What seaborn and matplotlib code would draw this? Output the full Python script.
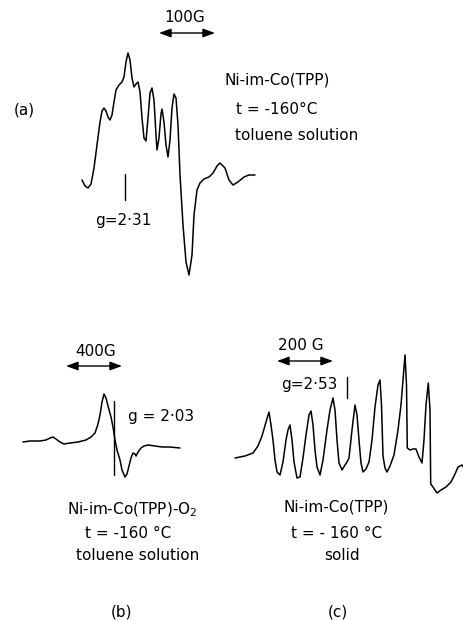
import matplotlib
matplotlib.use("Agg")
import matplotlib.pyplot as plt
import seaborn as sns
import pandas as pd

# ---- data (page pixel coordinates) ----
a_x = [82, 85, 88, 91, 94, 97, 100, 102, 104, 106, 108, 110, 112, 114, 116, 119, 122, 124, 126, 128,
       130, 132, 134, 136, 138, 140, 142, 144, 146, 148, 150, 152, 154, 156, 157, 159, 161, 162, 164,
       166, 168, 170, 172, 174, 176, 178, 180, 183, 186, 189, 192, 194, 197, 200, 204, 209, 213, 217,
       220, 225, 229, 233, 238, 244, 249, 255]
a_y = [180, 186, 188, 184, 168, 145, 122, 111, 108, 111, 117, 120, 115, 102, 90, 85, 82, 77, 62, 53,
       60, 78, 87, 84, 82, 92, 118, 138, 141, 118, 93, 88, 100, 135, 150, 138, 114, 109, 122,
       145, 157, 140, 108, 94, 98, 125, 175, 225, 262, 275, 255, 215, 190, 183, 179, 177, 173, 166,
       163, 168, 180, 185, 182, 177, 175, 175]

b_x = [23, 30, 40, 46, 50, 53, 56, 60, 64, 70, 78, 86, 91, 95, 98, 100, 102, 104, 106, 108, 111,
       113, 115, 117, 120, 122, 125, 127, 129, 131, 133, 135, 136, 138, 141, 144, 148, 155, 162,
       170, 180]
b_y = [442, 441, 441, 440, 438, 437, 439, 442, 444, 443, 442, 440, 437, 433, 424, 415, 402, 394, 398,
       406, 417, 427, 440, 450, 460, 470, 477, 474, 466, 458, 453, 454, 456, 452, 448, 446, 445, 446,
       447, 447, 448]

c_x = [235, 245, 253, 258, 262, 266, 269, 271, 273, 275, 277, 280, 283, 286, 288, 290, 292, 294,
       297, 300, 303, 306, 309, 311, 313, 315, 317, 320, 323, 327, 330, 333, 335, 337, 339, 342,
       345, 347, 349, 352, 355, 357, 359, 361, 363, 366, 369, 372, 375, 378, 380, 381.5, 383, 385,
       387, 390, 394, 398, 401, 403, 405, 406.5, 407.3, 410, 413, 416, 419, 422, 424, 426, 428.3,
       430, 430.7, 433, 437, 441, 446, 451, 455, 458, 462, 464]
c_y = [458, 456, 453, 446, 436, 422, 412, 425, 440, 460, 472, 475, 462, 440, 430, 425, 440, 462,
       478, 477, 458, 435, 415, 411, 425, 450, 467, 475, 460, 430, 410, 398, 410, 440, 463, 470,
       465, 462, 458, 430, 405, 415, 440, 463, 472, 469, 462, 440, 407, 385, 380, 405, 456, 468,
       472, 466, 455, 430, 405, 380, 355, 385, 448, 450, 449, 449, 457, 463, 440, 405, 383,
       410, 484, 487, 493, 490, 487, 482, 474, 467, 465, 468]

texts = [
    # (text, x, y, ha)
    ("100G", 185, 18, "center"),
    ("(a)", 24, 110, "center"),
    ("Ni-im-Co(TPP)", 225, 80, "left"),
    ("t = -160°C", 236, 109, "left"),
    ("toluene solution", 235, 136, "left"),
    ("g=2·31", 123, 220, "center"),
    ("400G", 96, 352, "center"),
    ("g = 2·03", 161, 416, "center"),
    ("200 G", 301, 345, "center"),
    ("g=2·53", 309, 385, "center"),
    ("Ni-im-Co(TPP)-O$_2$", 132, 510, "center"),
    ("t = -160 °C", 128, 533, "center"),
    ("toluene solution", 138, 555, "center"),
    ("(b)", 122, 612, "center"),
    ("Ni-im-Co(TPP)", 336, 507, "center"),
    ("t = - 160 °C", 337, 533, "center"),
    ("solid", 342, 555, "center"),
    ("(c)", 338, 612, "center"),
]

sns.set_theme(style="white")
plt.rcParams["font.family"] = ["DejaVu Sans"]

fig = plt.figure(figsize=(4.64, 6.20), dpi=100)
ax = fig.add_axes([0, 0, 1, 1])

for xs, ys in ((a_x, a_y), (b_x, b_y), (c_x, c_y)):
    df = pd.DataFrame({"x": xs, "y": ys})
    sns.lineplot(data=df, x="x", y="y", sort=False, estimator=None,
                 color="black", lw=1.1, ax=ax)

ax.set_xlim(0, 464)
ax.set_ylim(620, 0)
ax.axis("off")

# field-scale arrows
for x0, x1, y in ((159, 215, 33), (66, 122, 366), (277, 333, 361)):
    ax.annotate("", xy=(x1, y), xytext=(x0, y),
                arrowprops=dict(arrowstyle="<|-|>,head_length=0.6,head_width=0.22",
                                color="black", lw=1.0, shrinkA=0, shrinkB=0))

# g markers
ax.plot([125, 125], [174, 200], color="black", lw=1.0)
ax.plot([114, 114], [401, 475], color="black", lw=1.0)
ax.plot([347.5, 347.5], [377, 398], color="black", lw=1.0)

for t, x, y, ha in texts:
    ax.text(x, y, t, ha=ha, va="center", fontsize=11, color="black")

fig.savefig("out.png", dpi=100, facecolor="white")
